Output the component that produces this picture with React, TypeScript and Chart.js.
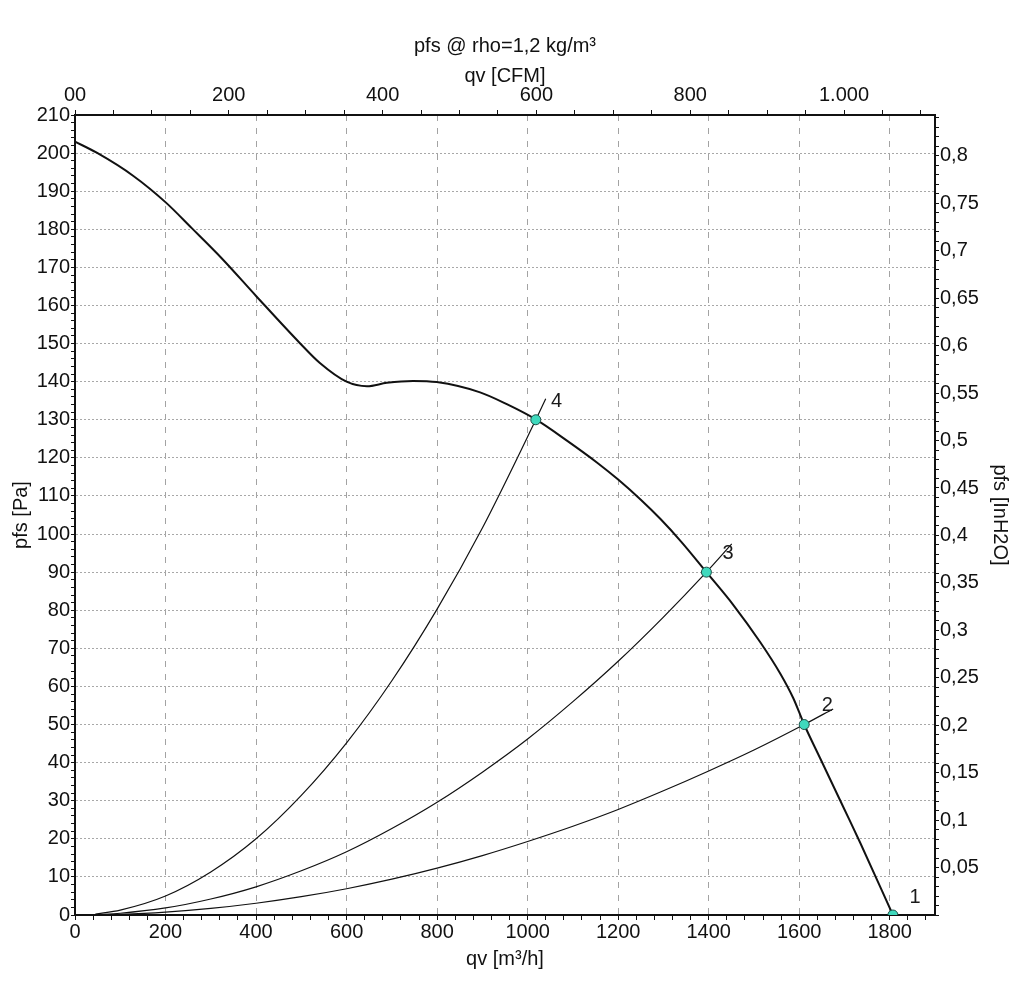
import React, { useEffect, useRef } from 'react';
import { Chart, registerables } from 'chart.js';

Chart.register(...registerables);

const FONT = "'Liberation Sans', Arial, Helvetica, sans-serif";

// Fan curve (qv in m³/h, pfs in Pa)
const fanQ = [0, 48, 129, 201, 258, 324, 400, 497, 541, 600, 645, 689, 747, 799, 895, 954, 1018, 1086, 1153, 1200, 1250, 1293, 1340, 1395, 1455, 1514, 1558, 1587, 1611, 1646, 1700, 1735, 1807];
const fanP = [203, 200.1, 194, 187, 180.3, 172.4, 162.5, 150.1, 144.9, 140.0, 138.8, 139.7, 140.2, 139.9, 137.2, 134.1, 130.1, 124.6, 118.8, 114.3, 109.0, 104.0, 97.9, 90, 81.3, 71.6, 63.4, 56.9, 50, 41.2, 27.7, 18.9, 0];

// System curves
const sys4Q = [45, 100, 200, 300, 400, 500, 600, 700, 800, 900, 1018, 1040];
const sys4P = [0.25, 1.3, 5.0, 11.3, 20.0, 31.4, 45.2, 61.5, 80.3, 101.6, 130, 135.5];
const sys3Q = [45, 100, 200, 300, 400, 500, 600, 700, 800, 900, 1000, 1100, 1200, 1300, 1395, 1451];
const sys3P = [0.09, 0.46, 1.85, 4.2, 7.4, 11.6, 16.6, 22.7, 29.6, 37.5, 46.2, 56, 66.6, 78.2, 90, 97.4];
const sys2Q = [45, 100, 200, 300, 400, 500, 600, 700, 800, 900, 1000, 1100, 1200, 1300, 1400, 1500, 1611, 1675];
const sys2P = [0.04, 0.19, 0.77, 1.73, 3.08, 4.8, 6.9, 9.4, 12.3, 15.6, 19.3, 23.3, 27.7, 32.6, 37.8, 43.3, 50, 54.1];

// Operating points and their labels
const opQ = [1807, 1611, 1395, 1018];
const opP = [0, 50, 90, 130];
const opLabels = ['1', '2', '3', '4'];
const labelQ = [1856, 1662, 1443, 1064];
const labelP = [4.7, 54.9, 94.8, 134.7];

// Axes
const QV_MAX = 1900;
const PFS_MAX = 210;
const M3H_PER_CFM = 1.69901;
const PA_PER_INH2O = 249.089;
const xMinorStep = 40;
const xMajorStep = 200;
const yMinorStep = 2;
const yMajorStep = 10;
const cfmMinorStep = 50;
const cfmMajorStep = 200;
const inMinorStep = 0.01;
const inMajorStep = 0.05;

const isMult = (v: number, step: number) => Math.abs(v / step - Math.round(v / step)) < 1e-6;

const toPts = (q: number[], p: number[]) => q.map((v, i) => ({ x: v, y: p[i] }));

const pointLabelPlugin = {
  id: 'pointLabels',
  afterDatasetsDraw(chart: any) {
    const { ctx, scales } = chart;
    const x = scales.x;
    const y = scales.y;
    ctx.save();
    ctx.font = `20px ${FONT}`;
    ctx.fillStyle = '#1a1a1a';
    ctx.textAlign = 'center';
    ctx.textBaseline = 'middle';
    opLabels.forEach((t, i) => {
      ctx.fillText(t, x.getPixelForValue(labelQ[i]), y.getPixelForValue(labelP[i]));
    });
    ctx.restore();
  },
};

export default function App() {
  const ref = useRef<HTMLCanvasElement | null>(null);

  useEffect(() => {
    if (!ref.current) return;
    const tickFont = { family: FONT, size: 20 };
    const chart = new Chart(ref.current, {
      type: 'line',
      data: {
        datasets: [
          {
            label: 'points',
            data: toPts(opQ, opP),
            showLine: false,
            pointRadius: 5,
            pointHoverRadius: 5,
            pointBackgroundColor: '#3fd9bd',
            pointBorderColor: '#1d4f47',
            pointBorderWidth: 1,
            clip: 0,
          } as any,
          {
            label: 'fan',
            data: toPts(fanQ, fanP),
            borderColor: '#111',
            borderWidth: 2,
            pointRadius: 0,
            cubicInterpolationMode: 'monotone',
            fill: false,
          },
          {
            label: 'sys4',
            data: toPts(sys4Q, sys4P),
            borderColor: '#111',
            borderWidth: 1.2,
            pointRadius: 0,
            cubicInterpolationMode: 'monotone',
          },
          {
            label: 'sys3',
            data: toPts(sys3Q, sys3P),
            borderColor: '#111',
            borderWidth: 1.2,
            pointRadius: 0,
            cubicInterpolationMode: 'monotone',
          },
          {
            label: 'sys2',
            data: toPts(sys2Q, sys2P),
            borderColor: '#111',
            borderWidth: 1.2,
            pointRadius: 0,
            cubicInterpolationMode: 'monotone',
          },
        ],
      },
      options: {
        animation: false,
        responsive: false,
        devicePixelRatio: 1,
        layout: { padding: 0 },
        plugins: {
          legend: { display: false },
          tooltip: { enabled: false },
        },
        scales: {
          x: {
            type: 'linear',
            position: 'bottom',
            min: 0,
            max: QV_MAX,
            afterFit: (s: any) => { s.height = 82; },
            ticks: {
              stepSize: xMinorStep,
              includeBounds: false,
              autoSkip: false,
              maxRotation: 0,
              padding: 0,
              color: '#111',
              font: tickFont,
              callback: (v: any) => (isMult(Number(v), xMajorStep) ? String(v) : ''),
            },
            grid: {
              color: (c: any) => {
                const v = c.tick ? c.tick.value : 0;
                return v > 0 && v < QV_MAX && isMult(v, xMajorStep) ? '#a3a3a3' : 'rgba(0,0,0,0)';
              },
              lineWidth: 1,
              tickColor: '#111',
              tickLength: 5,
              tickWidth: 1,
            },
            border: { display: true, color: '#111', width: 2, dash: [6, 7] },
            title: {
              display: true,
              text: 'qv [m³/h]',
              color: '#111',
              font: { family: FONT, size: 20, lineHeight: 1.2 },
              padding: { top: 0, bottom: 26 },
            },
          },
          x2: {
            type: 'linear',
            position: 'top',
            min: 0,
            max: QV_MAX / M3H_PER_CFM,
            afterFit: (s: any) => { s.height = 115; },
            ticks: {
              stepSize: cfmMinorStep,
              includeBounds: false,
              autoSkip: false,
              maxRotation: 0,
              padding: 3,
              color: '#111',
              font: tickFont,
              callback: (v: any) => {
                const n = Number(v);
                if (!isMult(n, cfmMajorStep)) return '';
                if (n === 0) return '00';
                return n >= 1000 ? `${Math.floor(n / 1000)}.${String(n % 1000).padStart(3, '0')}` : String(n);
              },
            },
            grid: {
              drawOnChartArea: false,
              color: '#111',
              tickColor: '#111',
              tickLength: 5,
              tickWidth: 1,
            },
            border: { display: true, color: '#111', width: 2 },
            title: {
              display: true,
              text: ['pfs @ rho=1,2 kg/m³', 'qv [CFM]'],
              color: '#111',
              font: { family: FONT, size: 20, lineHeight: 1.5 },
              padding: { top: 31, bottom: 0 },
            },
          },
          y: {
            type: 'linear',
            position: 'left',
            min: 0,
            max: PFS_MAX,
            afterFit: (s: any) => { s.width = 75; },
            ticks: {
              stepSize: yMinorStep,
              includeBounds: false,
              autoSkip: false,
              padding: 1,
              color: '#111',
              font: tickFont,
              callback: (v: any) => (isMult(Number(v), yMajorStep) ? String(v) : ''),
            },
            grid: {
              color: (c: any) => {
                const v = c.tick ? c.tick.value : 0;
                return v > 0 && v < PFS_MAX && isMult(v, yMajorStep) ? '#a8a8a8' : 'rgba(0,0,0,0)';
              },
              lineWidth: 1,
              tickColor: '#111',
              tickLength: 4,
              tickWidth: 1,
            },
            border: { display: true, color: '#111', width: 2, dash: [2, 2] },
            title: {
              display: true,
              text: 'pfs [Pa]',
              color: '#111',
              font: { family: FONT, size: 20, lineHeight: 1.2 },
              padding: { top: 9, bottom: 0 },
            },
          },
          y2: {
            type: 'linear',
            position: 'right',
            min: 0,
            max: PFS_MAX / PA_PER_INH2O,
            afterFit: (s: any) => { s.width = 89; },
            ticks: {
              stepSize: inMinorStep,
              includeBounds: false,
              autoSkip: false,
              padding: 1,
              color: '#111',
              font: tickFont,
              callback: (v: any) => {
                const n = Number(v);
                if (n <= 0 || !isMult(n, inMajorStep)) return '';
                return String(parseFloat(n.toFixed(2))).replace('.', ',');
              },
            },
            grid: {
              drawOnChartArea: false,
              color: '#111',
              tickColor: '#111',
              tickLength: 4,
              tickWidth: 1,
            },
            border: { display: true, color: '#111', width: 2 },
            title: {
              display: true,
              text: 'pfs [InH2O]',
              color: '#111',
              font: { family: FONT, size: 20, lineHeight: 1.2 },
              padding: { top: 12, bottom: 0 },
            },
          },
        },
      } as any,
      plugins: [pointLabelPlugin],
    });
    return () => chart.destroy();
  }, []);

  return (
    <div style={{ position: 'absolute', left: 0, top: 0, width: 1024, height: 997, background: '#fff' }}>
      <canvas ref={ref} width={1024} height={997} style={{ display: 'block' }} />
    </div>
  );
}
